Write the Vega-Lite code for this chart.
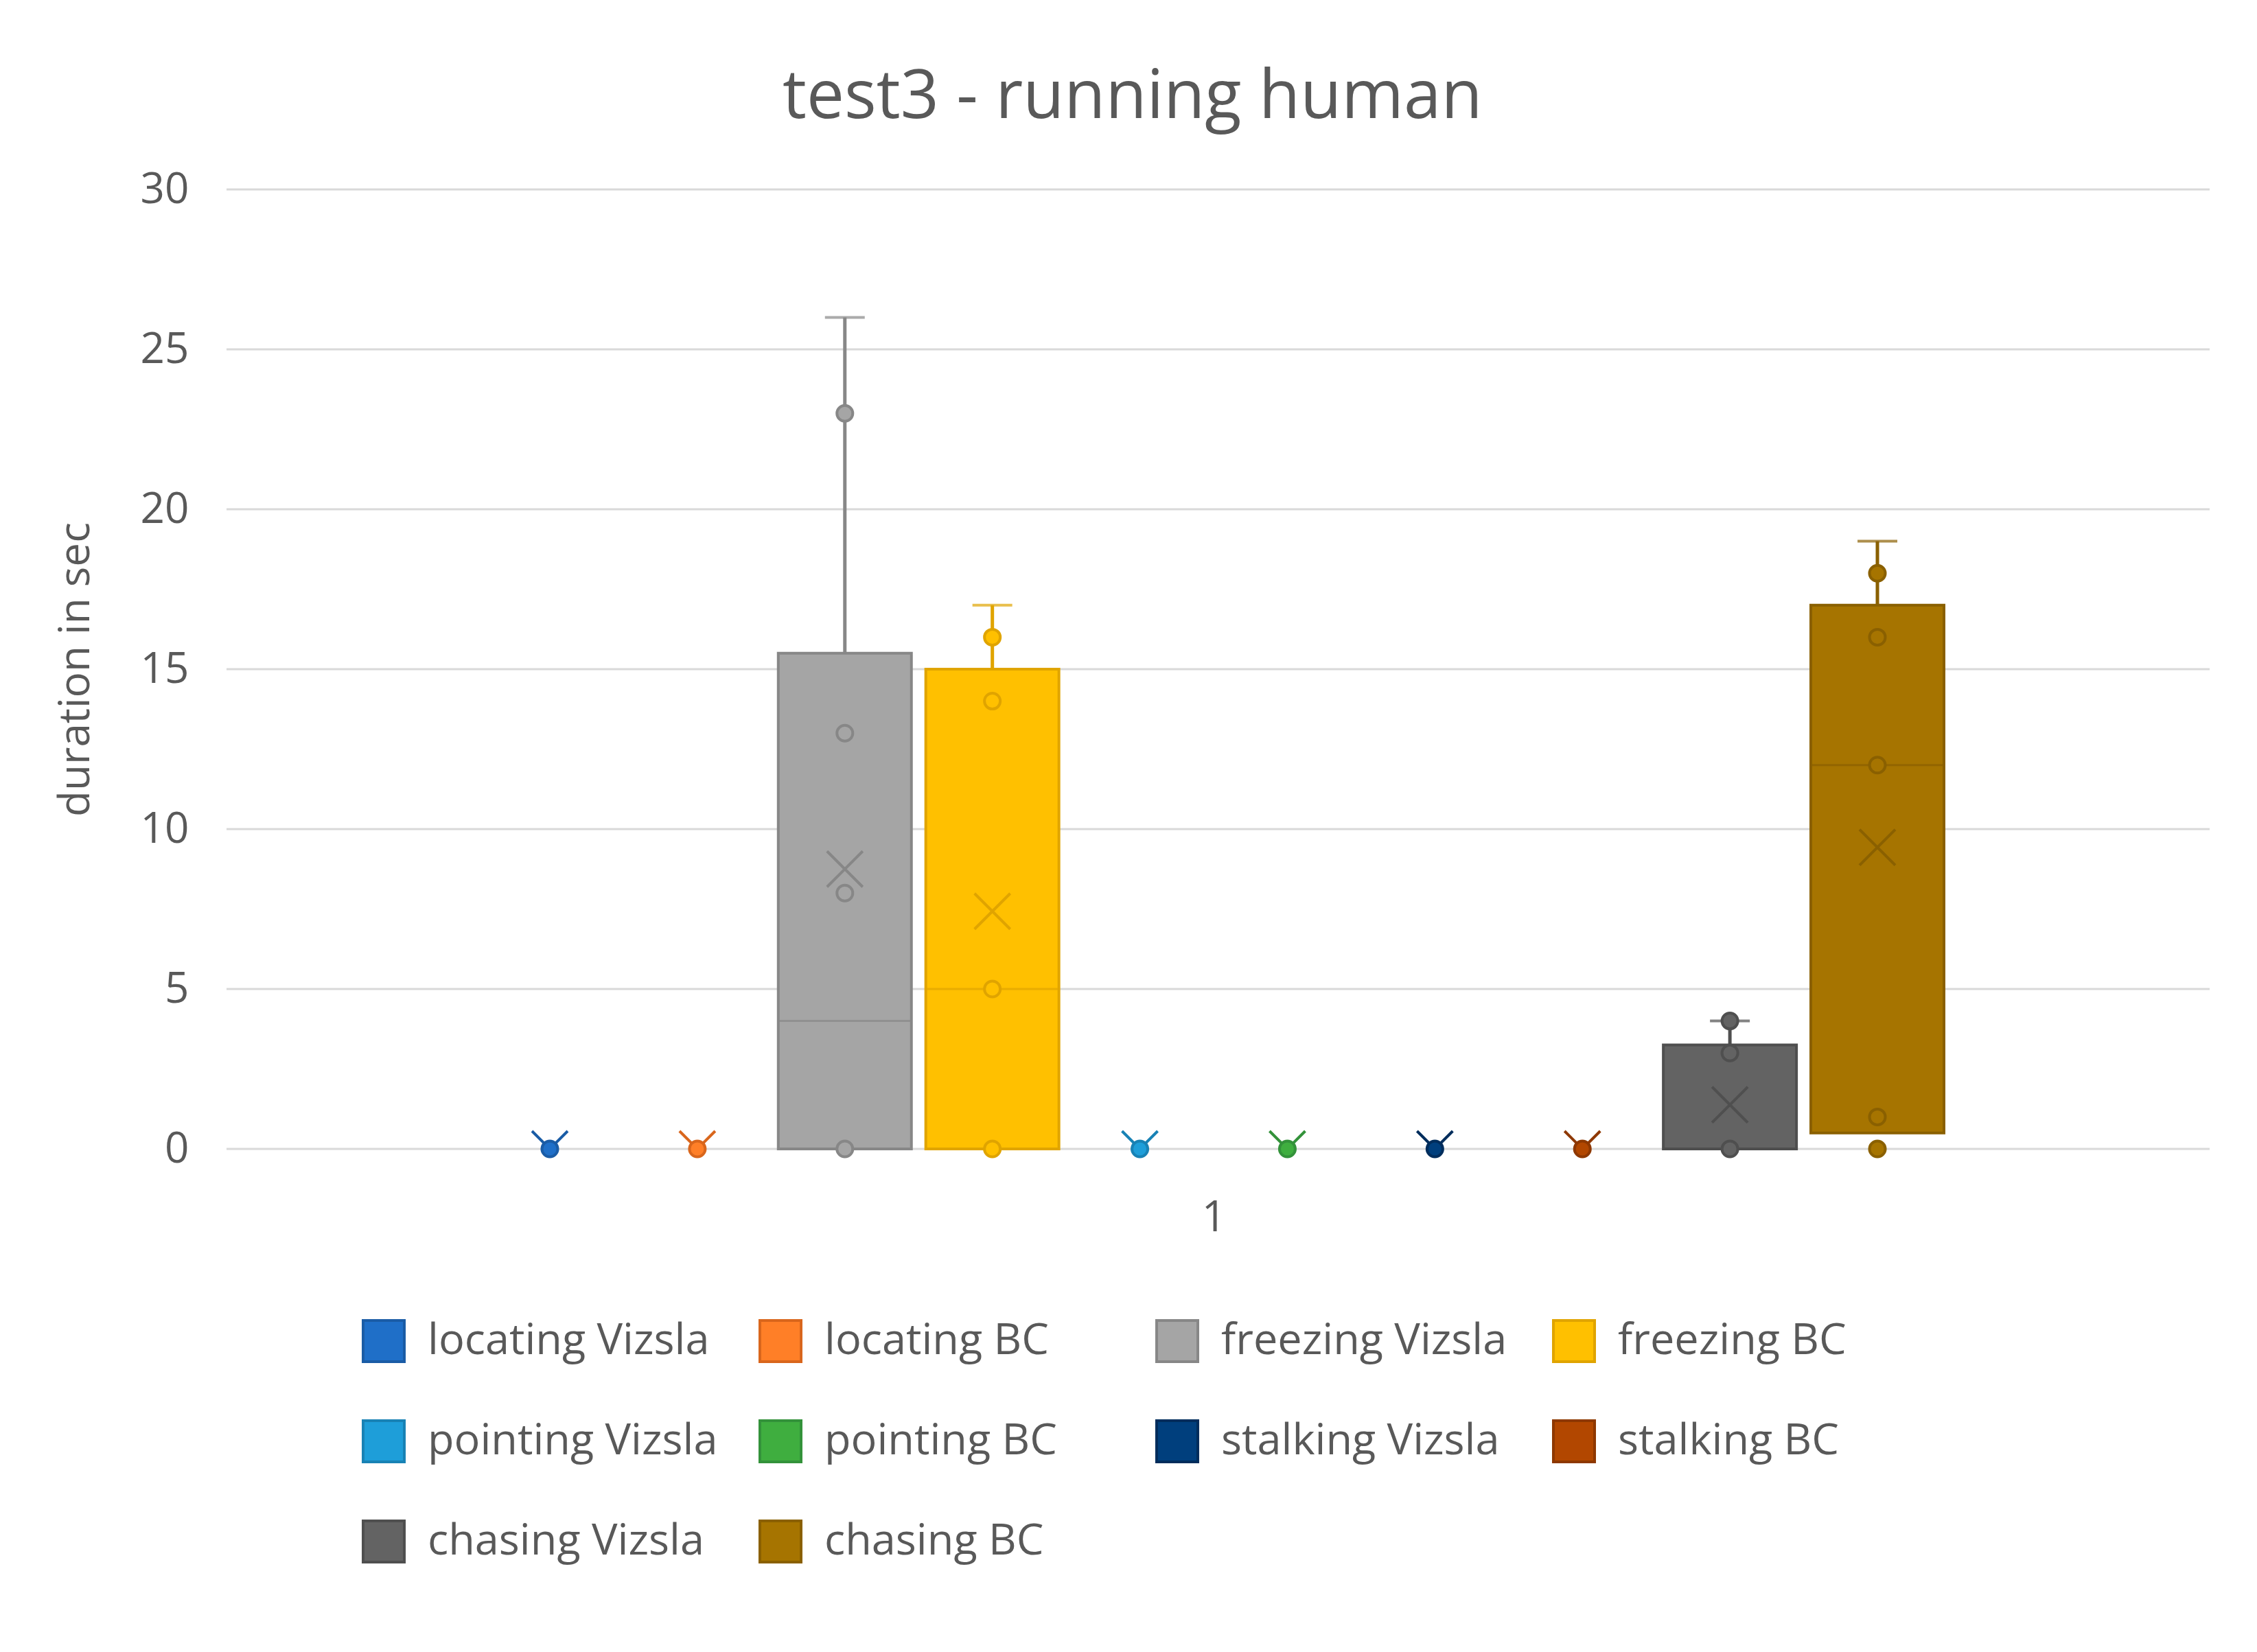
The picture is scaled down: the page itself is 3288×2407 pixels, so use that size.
{
  "$schema": "https://vega.github.io/schema/vega-lite/v6.json",
  "autosize": {"type": "none"},
  "width": 2889,
  "height": 1398,
  "padding": {"left": 330, "top": 276, "right": 69, "bottom": 733},
  "background": "white",
  "title": {
    "text": "test3 - running human",
    "fontSize": 98,
    "font": "Open Sans",
    "fontWeight": "normal",
    "color": "#595959",
    "anchor": "middle",
    "frame": "bounds",
    "offset": 52
  },
  "datasets": {
    "gridlines": [
      {"value": 0}, {"value": 5}, {"value": 10}, {"value": 15}, {"value": 20}, {"value": 25}, {"value": 30}
    ],
    "stats": [
      {"series": "locating Vizsla", "min": 0, "q1": 0, "median": 0, "q3": 0, "max": 0, "mean": 0},
      {"series": "locating BC", "min": 0, "q1": 0, "median": 0, "q3": 0, "max": 0, "mean": 0},
      {"series": "freezing Vizsla", "min": 0, "q1": 0, "median": 4, "q3": 15.5, "max": 26, "mean": 8.75},
      {"series": "freezing BC", "min": 0, "q1": 0, "median": 5, "q3": 15, "max": 17, "mean": 7.43},
      {"series": "pointing Vizsla", "min": 0, "q1": 0, "median": 0, "q3": 0, "max": 0, "mean": 0},
      {"series": "pointing BC", "min": 0, "q1": 0, "median": 0, "q3": 0, "max": 0, "mean": 0},
      {"series": "stalking Vizsla", "min": 0, "q1": 0, "median": 0, "q3": 0, "max": 0, "mean": 0},
      {"series": "stalking BC", "min": 0, "q1": 0, "median": 0, "q3": 0, "max": 0, "mean": 0},
      {"series": "chasing Vizsla", "min": 0, "q1": 0, "median": 0, "q3": 3.25, "max": 4, "mean": 1.38},
      {"series": "chasing BC", "min": 0, "q1": 0.5, "median": 12, "q3": 17, "max": 19, "mean": 9.43}
    ],
    "points": [
      {"series": "locating Vizsla", "value": 0},
      {"series": "locating BC", "value": 0},
      {"series": "freezing Vizsla", "value": 0},
      {"series": "freezing Vizsla", "value": 8},
      {"series": "freezing Vizsla", "value": 13},
      {"series": "freezing Vizsla", "value": 23},
      {"series": "freezing BC", "value": 0},
      {"series": "freezing BC", "value": 5},
      {"series": "freezing BC", "value": 14},
      {"series": "freezing BC", "value": 16},
      {"series": "pointing Vizsla", "value": 0},
      {"series": "pointing BC", "value": 0},
      {"series": "stalking Vizsla", "value": 0},
      {"series": "stalking BC", "value": 0},
      {"series": "chasing Vizsla", "value": 0},
      {"series": "chasing Vizsla", "value": 3},
      {"series": "chasing Vizsla", "value": 4},
      {"series": "chasing BC", "value": 0},
      {"series": "chasing BC", "value": 1},
      {"series": "chasing BC", "value": 12},
      {"series": "chasing BC", "value": 16},
      {"series": "chasing BC", "value": 18}
    ]
  },
  "layer": [
    {
      "data": {"name": "gridlines"},
      "mark": {"type": "rule", "stroke": "#D9D9D9", "strokeWidth": 3},
      "encoding": {
        "y": {
          "field": "value", "type": "quantitative", "title": "duration in sec",
          "scale": {"domain": [0, 30], "nice": false},
          "axis": {"values": [0, 5, 10, 15, 20, 25, 30]}
        }
      }
    },
    {
      "encoding": {
        "x": {
          "field": "series",
          "type": "nominal",
          "title": "1",
          "scale": {
            "domain": ["locating Vizsla", "locating BC", "freezing Vizsla", "freezing BC", "pointing Vizsla", "pointing BC", "stalking Vizsla", "stalking BC", "chasing Vizsla", "chasing BC"],
            "range": [374, 2502],
            "paddingInner": 0.0973,
            "paddingOuter": 0
          },
          "axis": {"labels": false, "ticks": false, "domain": false, "grid": false, "titlePadding": 70}
        }
      },
      "layer": [
        {
          "data": {"name": "stats"},
          "transform": [{"filter": "datum.max > 0"}],
          "mark": {"type": "rule", "strokeWidth": 5},
          "encoding": {
            "y": {"field": "q3", "type": "quantitative", "title": "duration in sec", "axis": {"values": [0, 5, 10, 15, 20, 25, 30]}},
            "y2": {"field": "max"},
            "stroke": {
              "field": "series", "type": "nominal", "legend": null,
              "scale": {
                "domain": ["chasing BC", "chasing Vizsla", "stalking BC", "stalking Vizsla", "pointing BC", "pointing Vizsla", "freezing BC", "freezing Vizsla", "locating BC", "locating Vizsla"],
                "range": ["#8A6000", "#4F4F4F", "#8E3800", "#002D5C", "#33923A", "#1882B5", "#E0A400", "#878787", "#D9661C", "#1A5CA6"]
              }
            }
          }
        },
        {
          "data": {"name": "stats"},
          "transform": [{"filter": "datum.max > 0"}],
          "mark": {"type": "bar", "strokeWidth": 4},
          "encoding": {
            "y": {"field": "q1", "type": "quantitative", "title": "duration in sec", "axis": {"values": [0, 5, 10, 15, 20, 25, 30]}},
            "y2": {"field": "q3"},
            "fill": {
              "field": "series", "type": "nominal",
              "scale": {
                "domain": ["locating Vizsla", "locating BC", "freezing Vizsla", "freezing BC", "pointing Vizsla", "pointing BC", "stalking Vizsla", "stalking BC", "chasing Vizsla", "chasing BC"],
                "range": ["#1F6FC8", "#FF7F27", "#A5A5A5", "#FFC000", "#1E9ED9", "#3FAE3F", "#003F7D", "#B24700", "#636363", "#A67400"]
              },
              "legend": {
                "orient": "none",
                "legendX": 197,
                "legendY": 1646,
                "direction": "horizontal",
                "columns": 4,
                "title": null,
                "symbolType": "square",
                "symbolSize": 3600,
                "symbolStrokeWidth": 4,
                "symbolOpacity": 1,
                "labelFontSize": 63,
                "labelFont": "Open Sans",
                "labelColor": "#595959",
                "labelOffset": 32,
                "labelLimit": 900,
                "columnPadding": 53,
                "rowPadding": 70,
                "gridAlign": "all",
                "encode": {
                  "symbols": {
                    "update": {
                      "fill": {"scale": "fill", "field": "value"},
                      "stroke": {"scale": "stroke", "field": "value"},
                      "strokeWidth": {"value": 4},
                      "opacity": {"value": 1}
                    }
                  }
                }
              }
            },
            "stroke": {"field": "series", "type": "nominal", "legend": null}
          }
        },
        {
          "data": {"name": "stats"},
          "transform": [{"filter": "datum.max > 0"}],
          "mark": {"type": "tick", "thickness": 3, "size": 194},
          "encoding": {
            "y": {"field": "median", "type": "quantitative", "title": "duration in sec", "axis": {"values": [0, 5, 10, 15, 20, 25, 30]}},
            "color": {
              "field": "series", "type": "nominal", "legend": null,
              "scale": {
                "domain": ["stalking BC", "stalking Vizsla", "pointing BC", "pointing Vizsla", "freezing BC", "freezing Vizsla", "locating BC", "locating Vizsla", "chasing BC", "chasing Vizsla"],
                "range": ["#8E3800", "#002D5C", "#33923A", "#1882B5", "#E0A400", "#878787", "#D9661C", "#1A5CA6", "#8A6000", "#4F4F4F"]
              }
            }
          }
        },
        {
          "data": {"name": "stats"},
          "transform": [{"filter": "datum.max > 0"}],
          "mark": {"type": "tick", "thickness": 4, "size": 58},
          "encoding": {
            "y": {"field": "max", "type": "quantitative", "title": "duration in sec", "axis": {"values": [0, 5, 10, 15, 20, 25, 30]}},
            "color": {"field": "series", "type": "nominal", "legend": null}
          }
        },
        {
          "data": {"name": "stats"},
          "mark": {"type": "point", "shape": "M-1,-1L1,1M1,-1L-1,1", "size": 2704, "strokeWidth": 4, "filled": false, "opacity": 1, "clip": true},
          "encoding": {
            "y": {"field": "mean", "type": "quantitative", "title": "duration in sec", "axis": {"values": [0, 5, 10, 15, 20, 25, 30]}},
            "stroke": {"field": "series", "type": "nominal", "legend": null}
          }
        },
        {
          "data": {"name": "points"},
          "mark": {"type": "point", "shape": "circle", "size": 531, "strokeWidth": 4, "filled": true, "opacity": 1},
          "encoding": {
            "y": {"field": "value", "type": "quantitative", "title": "duration in sec", "axis": {"values": [0, 5, 10, 15, 20, 25, 30]}},
            "fill": {"field": "series", "type": "nominal"},
            "stroke": {"field": "series", "type": "nominal", "legend": null}
          }
        }
      ]
    }
  ],
  "config": {
    "font": "Open Sans",
    "view": {"stroke": null},
    "axis": {
      "labelFont": "Open Sans",
      "titleFont": "Open Sans",
      "labelColor": "#595959",
      "titleColor": "#595959",
      "labelFontSize": 62,
      "titleFontSize": 62,
      "titleFontWeight": "normal",
      "grid": false,
      "domain": false,
      "ticks": false,
      "tickSize": 0
    },
    "axisY": {
      "labelPadding": 55,
      "titlePadding": 62
    }
  }
}
